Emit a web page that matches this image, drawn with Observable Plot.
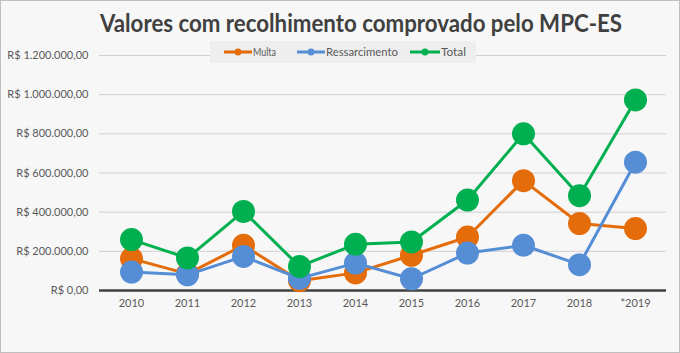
<!DOCTYPE html>
<html><head><meta charset="utf-8">
<script src="https://cdn.jsdelivr.net/npm/d3@7"></script>
<script src="https://cdn.jsdelivr.net/npm/@observablehq/plot@0.6"></script>
<style>html,body{margin:0;padding:0;background:#f7f7f7}</style>
</head><body><div id="chart"></div>
<script>
const years = ["2010","2011","2012","2013","2014","2015","2016","2017","2018","*2019"];
const multa = [163000, 85000, 231000, 50000, 90000, 180000, 273000, 561000, 342000, 316000];
const ressarcimento = [94000, 80000, 174000, 62000, 140000, 60000, 191000, 231000, 132000, 655000];
const total = [260000, 166000, 404000, 123000, 236000, 248000, 462000, 800000, 484000, 973000];
const yTicks = [0, 200000, 400000, 600000, 800000, 1000000, 1200000];
const seriesNames = ["Multa", "Ressarcimento", "Total"];
const seriesColors = ["#E46C0A", "#558ED5", "#00B050"];
const seriesValues = [multa, ressarcimento, total];

const loc = d3.formatLocale({decimal: ",", thousands: ".", grouping: [3], currency: ["R$ ", ""]});
const fmt = v => "R$ " + loc.format(",.2f")(v);

const seriesMarks = [];
seriesNames.forEach((name, k) => {
  const data = years.map((yr, i) => ({year: yr, value: seriesValues[k][i]}));
  seriesMarks.push(Plot.line(data, {x: "year", y: "value", stroke: seriesColors[k], strokeWidth: 3}));
  seriesMarks.push(Plot.dot(data, {x: "year", y: "value", r: 11.5, fill: seriesColors[k], stroke: "none"}));
});

const chart = Plot.plot({
  width: 680, height: 353,
  marginLeft: 99, marginRight: 14, marginTop: 55, marginBottom: 63,
  style: {background: "#f7f7f7", fontFamily: "Lato, 'Open Sans', sans-serif", fontSize: "11px", color: "#595959"},
  x: {type: "point", domain: years, padding: 0.5, label: null, axis: null},
  y: {domain: [0, 1200000], label: null, axis: null},
  marks: [
    Plot.ruleY(yTicks.slice(1), {stroke: "#d0d0d0", strokeWidth: 1}),
    Plot.axisY({ticks: yTicks, tickFormat: fmt, tickSize: 0, tickPadding: 11, label: null, fill: "#595959", fontSize: 11}),
    Plot.axisX({tickSize: 0, tickPadding: 9, label: null, fill: "#595959", fontSize: 11}),
    Plot.ruleY([0], {stroke: "#404040", strokeWidth: 2.5}),
    ...seriesMarks
  ]
});

const svg = d3.select(chart);
// outer border
svg.insert("rect", ":first-child")
  .attr("x", 0.5).attr("y", 0.5).attr("width", 679).attr("height", 352)
  .attr("fill", "#f7f7f7").attr("stroke", "#bfbfbf");
// title
svg.append("text")
  .attr("x", 361).attr("y", 32).attr("text-anchor", "middle")
  .attr("font-family", "Lato, 'Open Sans', sans-serif").attr("font-weight", "bold")
  .attr("font-size", 24).attr("fill", "#404040")
  .attr("textLength", 522).attr("lengthAdjust", "spacingAndGlyphs")
  .text("Valores com recolhimento comprovado pelo MPC-ES");
// legend
const lg = svg.append("g").attr("text-anchor", "start");
lg.append("rect").attr("x", 210).attr("y", 41).attr("width", 266).attr("height", 22).attr("fill", "#eeeeee");
const legendPos = [{x0: 224, x1: 252, tx: 253, tl: 23}, {x0: 297, x1: 325, tx: 326, tl: 72}, {x0: 410, x1: 440, tx: 441, tl: 25}];
seriesNames.forEach((name, k) => {
  const p = legendPos[k];
  lg.append("line").attr("x1", p.x0).attr("x2", p.x1).attr("y1", 52).attr("y2", 52)
    .attr("stroke", seriesColors[k]).attr("stroke-width", 3);
  lg.append("circle").attr("cx", (p.x0 + p.x1) / 2).attr("cy", 52).attr("r", 3.5).attr("fill", seriesColors[k]);
  lg.append("text").attr("x", p.tx).attr("y", 56).attr("text-anchor", "start")
    .attr("font-family", "Lato, 'Open Sans', sans-serif").attr("font-size", 11.5).attr("fill", "#595959")
    .attr("textLength", p.tl).attr("lengthAdjust", "spacingAndGlyphs")
    .text(name);
});

document.getElementById("chart").appendChild(chart);
</script>
</body></html>
